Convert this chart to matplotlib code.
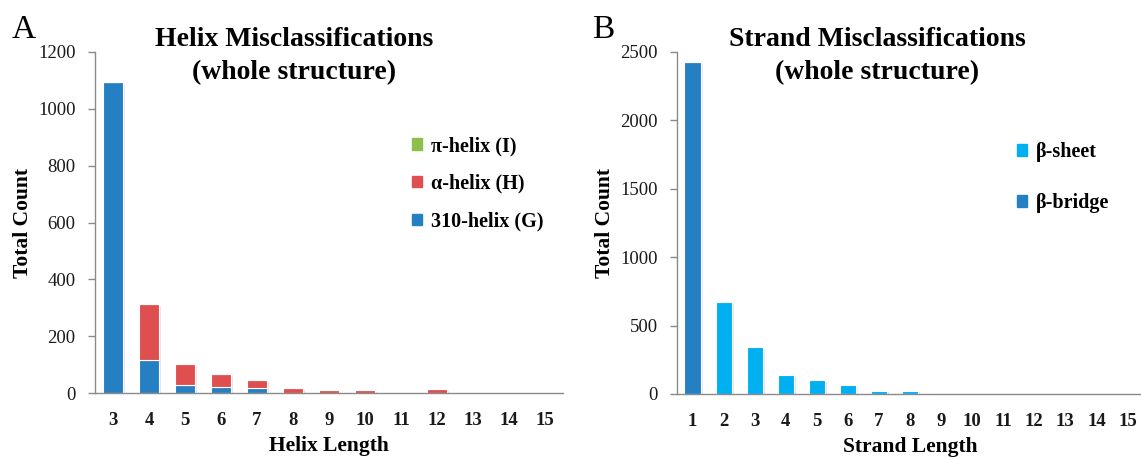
import matplotlib
matplotlib.use("Agg")
import matplotlib.pyplot as plt
import matplotlib.patheffects as pe
from matplotlib.patches import Patch
import numpy as np

# ---- data ----
helix_lengths = [3, 4, 5, 6, 7, 8, 9, 10, 11, 12, 13, 14, 15]
helix_310 = [1093, 116, 28, 20, 18, 0, 0, 0, 0, 0, 0, 0, 0]
helix_alpha = [0, 197, 74, 48, 28, 18, 9, 9, 0, 13, 0, 0, 0]
helix_pi = [0, 0, 0, 0, 0, 0, 0, 0, 0, 0, 0, 0, 0]
helix_yticks = [0, 200, 400, 600, 800, 1000, 1200]

strand_lengths = [1, 2, 3, 4, 5, 6, 7, 8, 9, 10, 11, 12, 13, 14, 15]
strand_bridge = [2424, 0, 0, 0, 0, 0, 0, 0, 0, 0, 0, 0, 0, 0, 0]
strand_sheet = [0, 670, 341, 139, 102, 64, 24, 24, 0, 0, 0, 0, 0, 0, 0]
strand_yticks = [0, 500, 1000, 1500, 2000, 2500]

# ---- style ----
SERIF = ["Liberation Serif", "DejaVu Serif"]
plt.rcParams["font.family"] = SERIF
BLUE = "#2580C3"
RED = "#DF4F4F"
GREEN = "#8CC04C"
CYAN = "#00B0F0"
AXIS_GREY = "#8A8A8A"

W, H = 1141, 457
fig = plt.figure(figsize=(W / 100, H / 100), dpi=100)

shadow = [pe.SimplePatchShadow(offset=(1.5, -1.2), alpha=0.18, shadow_rgbFace="#777777"), pe.Normal()]


def px_axes(left, right, top, bottom):
    return fig.add_axes([left / W, 1 - bottom / H, (right - left) / W, (bottom - top) / H])


def style_axes(ax, xlabels, yticks, xlabel):
    for s in ("top", "right"):
        ax.spines[s].set_visible(False)
    for s in ("left", "bottom"):
        ax.spines[s].set_color(AXIS_GREY)
        ax.spines[s].set_linewidth(1.0)
    ax.set_yticks(yticks)
    ax.set_yticklabels([str(v) for v in yticks], fontsize=13.5, color="#1a1a1a")
    ax.tick_params(axis="y", direction="out", length=5, width=1, color=AXIS_GREY, pad=9)
    ax.set_xticks(np.arange(len(xlabels)))
    ax.set_xticklabels([str(v) for v in xlabels], fontsize=13.5, fontweight="bold", color="#1a1a1a")
    ax.tick_params(axis="x", length=0, pad=14)
    ax.set_xlim(-0.5, len(xlabels) - 0.5)
    ax.set_ylim(0, yticks[-1])
    ax.set_xlabel(xlabel, fontsize=15.5, fontweight="bold", labelpad=5)
    ax.set_ylabel("Total Count", fontsize=15.5, fontweight="bold")


legend_kw = dict(frameon=False, prop={"family": SERIF, "weight": "bold", "size": 14.5},
                 handlelength=0.5, handleheight=0.5, handletextpad=0.45,
                 borderaxespad=0, borderpad=0, loc="upper left")

# ---- panel A: helix ----
axA = px_axes(95, 563, 52, 393)
xA = np.arange(len(helix_lengths))
bw = 0.54
b1 = axA.bar(xA, helix_310, bw, color=BLUE, edgecolor="white", linewidth=0.8)
b2 = axA.bar(xA, helix_alpha, bw, bottom=helix_310, color=RED, edgecolor="white", linewidth=0.8)
b3 = axA.bar(xA, helix_pi, bw, bottom=np.add(helix_310, helix_alpha), color=GREEN,
             edgecolor="white", linewidth=0.8)
for bars in (b1, b2, b3):
    for r in bars:
        if r.get_height() > 0:
            r.set_path_effects(shadow)
style_axes(axA, helix_lengths, helix_yticks, "Helix Length")
axA.yaxis.set_label_coords(-(95 - 23) / 468, 0.5)
axA.yaxis.label.set_va("center")

axA.legend(
    handles=[Patch(color=GREEN, label="π-helix (I)"),
             Patch(color=RED, label="α-helix (H)"),
             Patch(color=BLUE, label="310-helix (G)")],
    bbox_to_anchor=(412 / W, 1 - 136 / H), bbox_transform=fig.transFigure,
    labelspacing=0.88, **legend_kw)

fig.text(294 / W, 1 - 46 / H, "Helix Misclassifications", ha="center", va="baseline",
         fontsize=20, fontweight="bold")
fig.text(294 / W, 1 - 79 / H, "(whole structure)", ha="center", va="baseline",
         fontsize=20, fontweight="bold")
fig.text(12 / W, 1 - 38 / H, "A", ha="left", va="baseline", fontsize=24)

# ---- panel B: strand ----
axB = px_axes(677, 1143, 52, 394)
xB = np.arange(len(strand_lengths))
bwB = 0.52
c1 = axB.bar(xB, strand_bridge, bwB, color=BLUE, edgecolor="white", linewidth=0.8)
c2 = axB.bar(xB, strand_sheet, bwB, bottom=strand_bridge, color=CYAN, edgecolor="white", linewidth=0.8)
for bars in (c1, c2):
    for r in bars:
        if r.get_height() > 0:
            r.set_path_effects(shadow)
style_axes(axB, strand_lengths, strand_yticks, "Strand Length")
axB.yaxis.set_label_coords(-(677 - 605) / 466, 0.5)
axB.yaxis.label.set_va("center")

axB.legend(
    handles=[Patch(color=CYAN, label="β-sheet"),
             Patch(color=BLUE, label="β-bridge")],
    bbox_to_anchor=(1017 / W, 1 - 142 / H), bbox_transform=fig.transFigure,
    labelspacing=1.55, **legend_kw)

fig.text(877 / W, 1 - 46 / H, "Strand Misclassifications", ha="center", va="baseline",
         fontsize=20, fontweight="bold")
fig.text(877 / W, 1 - 79 / H, "(whole structure)", ha="center", va="baseline",
         fontsize=20, fontweight="bold")
fig.text(592 / W, 1 - 38 / H, "B", ha="left", va="baseline", fontsize=24)

fig.savefig("out.png", dpi=100)
